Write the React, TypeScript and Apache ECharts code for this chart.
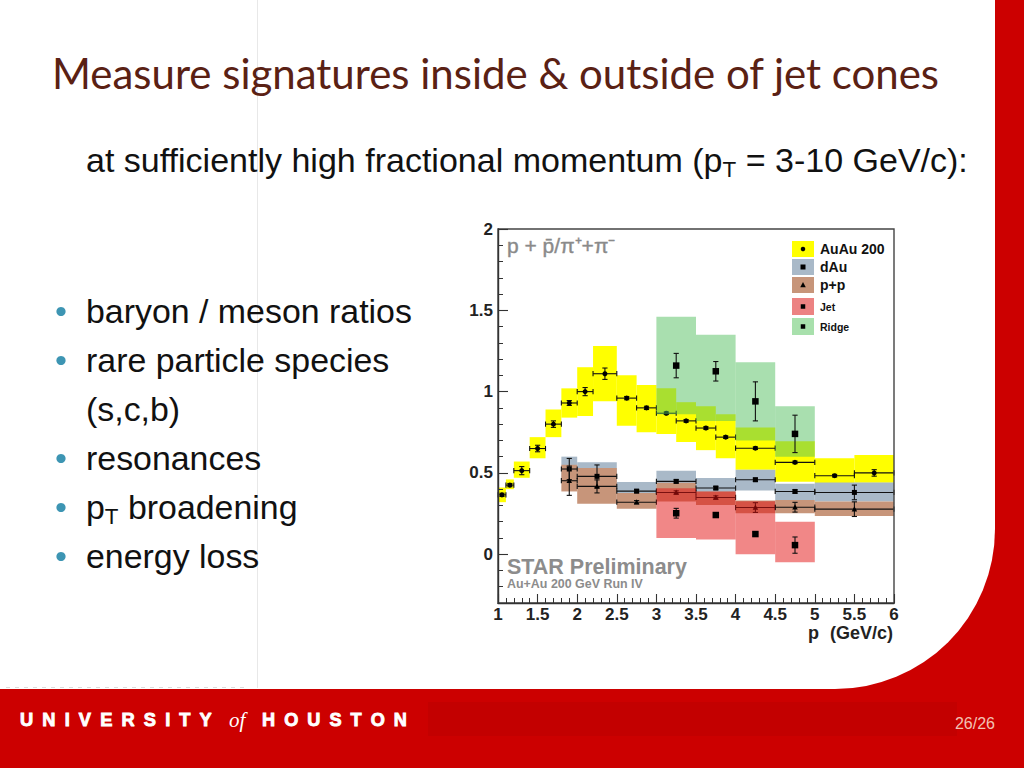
import React, { useEffect, useRef } from 'react';
import * as echarts from 'echarts';

// ---------------- data ----------------
const X_MIN = 1;
const X_MAX = 6;
const Y_MIN = -0.3;
const Y_MAX = 2.0;

// Au+Au 200 (yellow boxes, circles)
const auauLo = [1.0, 1.1, 1.2, 1.4, 1.6, 1.8, 2.0, 2.2, 2.5, 2.75, 3.0, 3.25, 3.5, 3.75, 4.0, 4.5, 5.0, 5.5];
const auauHi = [1.1, 1.2, 1.4, 1.6, 1.8, 2.0, 2.2, 2.5, 2.75, 3.0, 3.25, 3.5, 3.75, 4.0, 4.5, 5.0, 5.5, 6.0];
const auauX = [1.05, 1.15, 1.3, 1.5, 1.7, 1.9, 2.1, 2.35, 2.625, 2.875, 3.125, 3.375, 3.625, 3.875, 4.25, 4.75, 5.25, 5.75];
const auauY = [0.365, 0.425, 0.514, 0.65, 0.8, 0.93, 1.0, 1.11, 0.96, 0.9, 0.867, 0.82, 0.776, 0.72, 0.652, 0.565, 0.483, 0.5];
const auauErr = [0.01, 0.01, 0.025, 0.02, 0.02, 0.015, 0.025, 0.035, 0.01, 0.01, 0.008, 0.008, 0.008, 0.008, 0.008, 0.008, 0.008, 0.02];
const auauSysLo = [0.32, 0.4, 0.47, 0.59, 0.72, 0.84, 0.85, 0.94, 0.79, 0.75, 0.74, 0.69, 0.64, 0.59, 0.52, 0.445, 0.435, 0.44];
const auauSysHi = [0.41, 0.46, 0.57, 0.72, 0.89, 1.02, 1.15, 1.28, 1.1, 1.04, 1.02, 0.935, 0.91, 0.86, 0.78, 0.695, 0.59, 0.61];

// d+Au (grey-blue boxes, squares)
const dauLo = [1.8, 2.0, 2.5, 3.0, 3.5, 4.0, 4.5, 5.0];
const dauHi = [2.0, 2.5, 3.0, 3.5, 4.0, 4.5, 5.0, 6.0];
const dauX = [1.9, 2.25, 2.75, 3.25, 3.75, 4.25, 4.75, 5.5];
const dauY = [0.524, 0.479, 0.388, 0.448, 0.407, 0.458, 0.386, 0.38];
const dauErr = [0.065, 0.07, 0.01, 0.01, 0.01, 0.01, 0.01, 0.045];
const dauSysLo = [0.46, 0.42, 0.335, 0.39, 0.35, 0.392, 0.334, 0.324];
const dauSysHi = [0.6, 0.565, 0.444, 0.514, 0.469, 0.52, 0.433, 0.441];

// p+p (brown boxes, triangles)
const ppLo = [1.8, 2.0, 2.5, 3.0, 3.5, 4.0, 4.5, 5.0];
const ppHi = [2.0, 2.5, 3.0, 3.5, 4.0, 4.5, 5.0, 6.0];
const ppX = [1.9, 2.25, 2.75, 3.25, 3.75, 4.25, 4.75, 5.5];
const ppY = [0.452, 0.417, 0.32, 0.38, 0.349, 0.287, 0.289, 0.277];
const ppErr = [0.09, 0.04, 0.01, 0.01, 0.01, 0.03, 0.03, 0.045];
const ppSysLo = [0.386, 0.31, 0.279, 0.324, 0.303, 0.252, 0.252, 0.235];
const ppSysHi = [0.55, 0.53, 0.376, 0.44, 0.386, 0.33, 0.334, 0.324];

// Jet (red boxes, squares)
const jetLo = [3.0, 3.5, 4.0, 4.5];
const jetHi = [3.5, 4.0, 4.5, 5.0];
const jetX = [3.25, 3.75, 4.25, 4.75];
const jetY = [0.252, 0.241, 0.124, 0.056];
const jetErr = [0.03, 0.012, 0.012, 0.05];
const jetSysLo = [0.1, 0.09, 0.0, -0.05];
const jetSysHi = [0.405, 0.385, 0.325, 0.2];

// Ridge (green boxes, squares)
const ridgeLo = [3.0, 3.5, 4.0, 4.5];
const ridgeHi = [3.5, 4.0, 4.5, 5.0];
const ridgeX = [3.25, 3.75, 4.25, 4.75];
const ridgeY = [1.16, 1.125, 0.94, 0.74];
const ridgeErr = [0.075, 0.06, 0.12, 0.115];
const ridgeSysLo = [0.86, 0.82, 0.7, 0.6];
const ridgeSysHi = [1.46, 1.35, 1.18, 0.91];

const legendNames = ['AuAu 200', 'dAu', 'p+p', 'Jet', 'Ridge'];

// ---------------- texts ----------------
const titleText = 'Measure signatures inside & outside of jet cones';
const subtitleParts = ['at sufficiently high fractional momentum (p', 'T', ' = 3-10 GeV/c):'];
const bulletParts = [
  ['baryon / meson ratios'],
  ['rare particle species'],
  ['(s,c,b)'],
  ['resonances'],
  ['p', 'T', ' broadening'],
  ['energy loss'],
];
const bulletShown = [true, true, false, true, true, true];

// ---------------- styling ----------------
const SANS = "'Liberation Sans', Arial, Helvetica, sans-serif";
const TITLE_FONT = "Lato, 'Noto Sans', sans-serif";
const NARROW = "'Liberation Sans Narrow', 'Liberation Sans', sans-serif";
const RED = '#cc0000';
const C_AUAU = '#ffff00';
const C_DAU = '#a9b9c8';
const C_PP = '#c7957a';
const C_JET = 'rgba(228,16,16,0.5)';
const C_RIDGE = 'rgba(84,192,96,0.5)';
const LEG_JET = '#ec8282';
const LEG_RIDGE = '#a8e0ac';

let measureCtx: any = null;
function tw(text: string, font: string): number {
  if (!measureCtx) {
    const c = document.createElement('canvas');
    measureCtx = c.getContext('2d');
  }
  measureCtx.font = font;
  return measureCtx.measureText(text).width;
}
function fitSize(text: string, family: string, weight: string, target: number, style = 'normal'): number {
  const w = tw(text, `${style} ${weight} 100px ${family}`);
  return w > 0 ? (100 * target) / w : 20;
}

function line(x1: number, y1: number, x2: number, y2: number, style: any) {
  return { type: 'line', shape: { x1, y1, x2, y2 }, style };
}

function markerEl(kind: string, cx: number, cy: number, s: number, fill: string) {
  if (kind === 'circle') return { type: 'circle', shape: { cx, cy, r: s / 2 }, style: { fill } };
  if (kind === 'triangle')
    return {
      type: 'polygon',
      shape: { points: [[cx, cy - s * 0.6], [cx - s * 0.55, cy + s * 0.45], [cx + s * 0.55, cy + s * 0.45]] },
      style: { fill },
    };
  return { type: 'rect', shape: { x: cx - s / 2, y: cy - s / 2, width: s, height: s }, style: { fill } };
}

function boxSeries(name: string, lo: number[], hi: number[], sLo: number[], sHi: number[], fill: string) {
  return {
    name,
    type: 'custom',
    xAxisIndex: 0,
    yAxisIndex: 0,
    silent: true,
    data: lo.map((v, i) => [v, hi[i], sLo[i], sHi[i]]),
    renderItem: (_p: any, api: any) => {
      const a = api.coord([api.value(0), api.value(3)]);
      const b = api.coord([api.value(1), api.value(2)]);
      return {
        type: 'rect',
        shape: { x: a[0], y: a[1], width: b[0] - a[0], height: b[1] - a[1] },
        style: { fill },
      };
    },
  };
}

const CAP = 2.6;
function errSeries(
  name: string,
  xs: number[],
  ys: number[],
  lo: number[],
  hi: number[],
  err: number[],
  marker: string,
  size: number,
  drawH: boolean
) {
  return {
    name,
    type: 'custom',
    xAxisIndex: 0,
    yAxisIndex: 0,
    silent: true,
    data: xs.map((x, i) => [x, ys[i], lo[i], hi[i], err[i]]),
    renderItem: (_p: any, api: any) => {
      const x = api.value(0);
      const y = api.value(1);
      const xl = api.value(2);
      const xh = api.value(3);
      const e = api.value(4);
      const c = api.coord([x, y]);
      const ls = { stroke: '#111', lineWidth: 1.1 };
      const ch: any[] = [];
      if (drawH) {
        const a = api.coord([xl, y]);
        const b = api.coord([xh, y]);
        ch.push(line(a[0], a[1], b[0], b[1], ls));
        ch.push(line(a[0], a[1] - CAP, a[0], a[1] + CAP, ls));
        ch.push(line(b[0], b[1] - CAP, b[0], b[1] + CAP, ls));
      }
      if (e > 0) {
        const t = api.coord([x, y + e]);
        const bt = api.coord([x, y - e]);
        ch.push(line(t[0], t[1], bt[0], bt[1], ls));
        ch.push(line(t[0] - CAP, t[1], t[0] + CAP, t[1], ls));
        ch.push(line(bt[0] - CAP, bt[1], bt[0] + CAP, bt[1], ls));
      }
      ch.push(markerEl(marker, c[0], c[1], size, '#000'));
      return { type: 'group', children: ch };
    },
  };
}

function textEl(x: number, y: number, text: string, fs: number, opt: any = {}) {
  const style: any = {
    text,
    fontSize: fs,
    fontFamily: opt.family || SANS,
    fontWeight: opt.weight || 'normal',
    fontStyle: opt.style || 'normal',
    fill: opt.color || '#111',
    align: opt.align || 'left',
    verticalAlign: 'middle',
  };
  if (opt.stroke) {
    style.stroke = opt.stroke;
    style.lineWidth = opt.strokeWidth || 0.6;
  }
  return { type: 'text', x, y, z: 100, silent: true, style };
}

// text line with alternating normal / subscript parts, positioned by its baseline
function partsLine(x0: number, baseline: number, parts: string[], fs: number, color: string, out: any[]) {
  let x = x0;
  parts.forEach((p, i) => {
    const sub = i % 2 === 1;
    const size = sub ? fs * 0.66 : fs;
    const base = sub ? baseline + fs * 0.16 : baseline;
    out.push(textEl(x, base - size * 0.347, p, size, { color }));
    x += tw(p, `normal normal ${size}px ${SANS}`);
  });
}

function buildOption() {
  const PL = 498;
  const PR = 894;
  const PT = 229;
  const PB = 603;
  const zeroPx = PB - ((0 - Y_MIN) / (Y_MAX - Y_MIN)) * (PB - PT);

  const g: any[] = [];
  // slide background: white area with rounded bottom-right corner on red
  g.push({ type: 'rect', z: -10, silent: true, shape: { x: 0, y: 0, width: 995, height: 689, r: [0, 0, 160, 0] }, style: { fill: '#ffffff' } });
  g.push({ type: 'rect', z: -9, silent: true, shape: { x: 428, y: 702, width: 529, height: 34 }, style: { fill: '#c30000' } });
  g.push({ type: 'line', z: -9, silent: true, shape: { x1: 257.5, y1: 0, x2: 257.5, y2: 688 }, style: { stroke: '#e8e8e8', lineWidth: 1 } });
  g.push({ type: 'line', z: -9, silent: true, shape: { x1: 6, y1: 687.5, x2: 245, y2: 687.5 }, style: { stroke: '#dcdcdc', lineWidth: 1, lineDash: [4, 5] } });

  // title
  const titleFs = Math.min(48, Math.max(28, fitSize(titleText, TITLE_FONT, 'normal', 888)));
  g.push(textEl(52, 89 - titleFs * 0.387, titleText, titleFs, { family: TITLE_FONT, color: '#5a2114' }));

  // subtitle
  const subTotal =
    tw(subtitleParts[0], `normal normal 100px ${SANS}`) +
    tw(subtitleParts[1], `normal normal 66px ${SANS}`) +
    tw(subtitleParts[2], `normal normal 100px ${SANS}`);
  const subFs = subTotal > 0 ? (100 * 882) / subTotal : 34;
  partsLine(86, 172, subtitleParts, subFs, '#111', g);

  // bullets
  const bFs = fitSize('baryon / meson ratios', SANS, 'normal', 326);
  bulletParts.forEach((parts, i) => {
    const base = 323 + i * 49;
    if (bulletShown[i]) {
      g.push({ type: 'circle', z: 100, silent: true, shape: { cx: 61, cy: base - 11.5, r: 4.6 }, style: { fill: '#3d95b3' } });
    }
    partsLine(86, base, parts, bFs, '#111', g);
  });

  // footer
  const EN = '\u2002';
  const w1 = 'UNIVERSITY'.split('').join(EN);
  const w2 = 'HOUSTON'.split('').join(EN);
  const f1 = fitSize(w1, SANS, 'bold', 192);
  const f2 = fitSize(w2, SANS, 'bold', 145);
  g.push(textEl(20, 719.5, w1, f1, { weight: 'bold', color: '#ffffff', stroke: '#ffffff', strokeWidth: 0.9 }));
  g.push(textEl(229, 720, 'of', 21, { family: "'Liberation Serif', 'DejaVu Serif', serif", style: 'italic', color: '#ffffff' }));
  g.push(textEl(262, 719.5, w2, f2, { weight: 'bold', color: '#ffffff', stroke: '#ffffff', strokeWidth: 0.9 }));
  g.push(textEl(995, 723, '26/26', 16, { family: NARROW, color: '#f2c2b4', align: 'right' }));

  // in-plot texts
  g.push(textEl(507, 245, 'p + p\u0304/\u03c0\u207a+\u03c0\u207b', 21, { color: '#8a8a8a', stroke: '#8a8a8a', strokeWidth: 0.4 }));
  const starFs = fitSize('STAR Preliminary', SANS, 'bold', 180);
  g.push(textEl(507, 567, 'STAR Preliminary', starFs, { weight: 'bold', color: '#8c8c8c' }));
  const runFs = fitSize('Au+Au 200 GeV Run IV', SANS, 'bold', 136);
  g.push(textEl(507, 584, 'Au+Au 200 GeV Run IV', runFs, { weight: 'bold', color: '#8c8c8c' }));
  g.push(textEl(808, 633, 'p', 18, { weight: 'bold', color: '#222' }));
  g.push(textEl(893, 633, '(GeV/c)', 18, { weight: 'bold', color: '#222', align: 'right' }));

  // legend
  const legRows = [
    [241, 257],
    [259, 275],
    [277, 293],
    [298, 315],
    [318, 335],
  ];
  const legFill = [C_AUAU, C_DAU, C_PP, LEG_JET, LEG_RIDGE];
  const legMarker = ['circle', 'square', 'triangle', 'square', 'square'];
  const legMSize = [4.5, 5, 5, 4.5, 4.5];
  const legFs = [14, 14, 14, 10.5, 10.5];
  legendNames.forEach((n, i) => {
    const [y0, y1] = legRows[i];
    g.push({ type: 'rect', z: 90, silent: true, shape: { x: 792, y: y0, width: 22, height: y1 - y0 }, style: { fill: legFill[i] } });
    g.push({ ...markerEl(legMarker[i], 803, (y0 + y1) / 2, legMSize[i], '#000'), z: 91, silent: true });
    g.push(textEl(820, (y0 + y1) / 2, n, legFs[i], { weight: 'bold', color: '#111' }));
  });

  const axisColor = '#333';
  return {
    animation: false,
    backgroundColor: RED,
    textStyle: { fontFamily: SANS },
    grid: [
      { left: PL, top: PT, width: PR - PL, height: PB - PT, show: true, borderColor: '#444', borderWidth: 1.4, backgroundColor: 'transparent', z: 3 },
      { left: PL, top: PT, width: PR - PL, height: zeroPx - PT, show: false },
    ],
    xAxis: [
      {
        type: 'value',
        gridIndex: 0,
        min: X_MIN,
        max: X_MAX,
        interval: 0.5,
        z: 4,
        position: 'bottom',
        axisLine: { show: true, onZero: false, lineStyle: { color: axisColor, width: 1.4 } },
        axisTick: { show: true, inside: true, length: 9, lineStyle: { color: axisColor, width: 1.1 } },
        minorTick: { show: true, splitNumber: 5, length: 5, lineStyle: { color: axisColor, width: 1 } },
        splitLine: { show: false },
        minorSplitLine: { show: false },
        axisLabel: { margin: 3, fontSize: 17, fontWeight: 'bold', color: '#222', fontFamily: SANS },
      },
      {
        type: 'value',
        gridIndex: 1,
        min: X_MIN,
        max: X_MAX,
        show: false,
        axisLine: { show: false, onZero: false },
        axisTick: { show: false },
        axisLabel: { show: false },
        splitLine: { show: false },
      },
    ],
    yAxis: [
      {
        type: 'value',
        gridIndex: 0,
        min: Y_MIN,
        max: Y_MAX,
        interval: 0.1,
        z: 4,
        position: 'left',
        axisLine: { show: true, onZero: false, lineStyle: { color: axisColor, width: 1.4 } },
        axisTick: { show: true, inside: true, length: 5, lineStyle: { color: axisColor, width: 1 } },
        splitLine: { show: false },
        axisLabel: {
          margin: 5,
          fontSize: 17,
          fontWeight: 'bold',
          color: '#222',
          fontFamily: SANS,
          formatter: (v: number) => {
            const r = Math.round(v * 10) / 10;
            if (r < 0) return '';
            return Math.abs(r * 2 - Math.round(r * 2)) < 1e-6 ? String(r) : '';
          },
        },
      },
      {
        type: 'value',
        gridIndex: 1,
        min: 0,
        max: Y_MAX,
        interval: 0.5,
        z: 4,
        position: 'left',
        axisLine: { show: false, onZero: false },
        axisTick: { show: true, inside: true, length: 10, lineStyle: { color: axisColor, width: 1.1 } },
        axisLabel: { show: false },
        splitLine: { show: false },
      },
    ],
    graphic: { elements: g },
    series: [
      boxSeries('AuAu 200 sys', auauLo, auauHi, auauSysLo, auauSysHi, C_AUAU),
      boxSeries('dAu sys', dauLo, dauHi, dauSysLo, dauSysHi, C_DAU),
      boxSeries('p+p sys', ppLo, ppHi, ppSysLo, ppSysHi, C_PP),
      errSeries('AuAu 200', auauX, auauY, auauLo, auauHi, auauErr, 'circle', 5, true),
      errSeries('dAu', dauX, dauY, dauLo, dauHi, dauErr, 'square', 5, true),
      errSeries('p+p', ppX, ppY, ppLo, ppHi, ppErr, 'triangle', 5, true),
      boxSeries('Jet sys', jetLo, jetHi, jetSysLo, jetSysHi, C_JET),
      boxSeries('Ridge sys', ridgeLo, ridgeHi, ridgeSysLo, ridgeSysHi, C_RIDGE),
      errSeries('Jet', jetX, jetY, jetLo, jetHi, jetErr, 'square', 6.5, false),
      errSeries('Ridge', ridgeX, ridgeY, ridgeLo, ridgeHi, ridgeErr, 'square', 6.5, false),
    ],
  };
}

export default function App() {
  const ref = useRef<HTMLDivElement>(null);
  useEffect(() => {
    document.body.style.margin = '0';
    const el = ref.current as HTMLDivElement;
    const chart = echarts.init(el, null, { renderer: 'svg', width: 1024, height: 768 });
    chart.setOption(buildOption() as any);
    return () => chart.dispose();
  }, []);
  return (
    <div
      ref={ref}
      style={{ position: 'absolute', left: 0, top: 0, width: 1024, height: 768, overflow: 'hidden' }}
    />
  );
}
